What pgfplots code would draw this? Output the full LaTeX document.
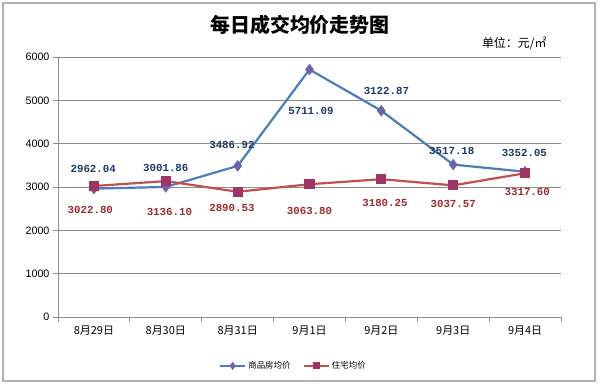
\documentclass[border=0pt]{standalone}
\usepackage{pgfplots}
\pgfplotsset{compat=1.18}
\usepackage{fontspec}
\setmainfont{Liberation Sans}
\newfontfamily\cjk{Noto Sans CJK SC}
\newfontfamily\lblfont{Liberation Mono}
\definecolor{blueline}{HTML}{4A7EBB}
\definecolor{bluemark}{HTML}{6E62A8}
\definecolor{redline}{HTML}{C0504D}
\definecolor{redmark}{HTML}{9E3566}
\definecolor{bluelbl}{HTML}{1F3864}
\definecolor{redlbl}{HTML}{9C2B2E}
\definecolor{gridc}{HTML}{8C8C8C}
\tikzset{
  blbl/.style={font=\lblfont\bfseries\fontsize{10.8}{12}\selectfont, text=bluelbl},
  rlbl/.style={font=\lblfont\bfseries\fontsize{10.8}{12}\selectfont, text=redlbl},
}
\begin{document}
\begin{tikzpicture}[x=1bp,y=1bp]
\useasboundingbox (0,0) rectangle (600,387);
\draw[gray!60, line width=1.2bp] (3,6) rectangle (595,384);
\node[font=\cjk\bfseries\fontsize{20}{24}\selectfont] at (300,362) {每日成交均价走势图};
\node[font=\cjk\fontsize{12}{14}\selectfont, anchor=east] at (550,344) {单位：元/㎡};
\begin{axis}[
  at={(58bp,70bp)}, anchor=south west,
  scale only axis, width=503bp, height=260bp,
  xmin=-0.5, xmax=6.5, ymin=0, ymax=6000,
  xtick={0,...,6},
  xticklabels={8月29日,8月30日,8月31日,9月1日,9月2日,9月3日,9月4日},
  minor xtick={-0.5,0.5,...,6.5},
  ytick={0,1000,...,6000},
  ymajorgrids,
  grid style={gridc, line width=0.8bp},
  axis x line*=bottom, axis y line*=left,
  axis line style={gridc, line width=0.8bp},
  tick align=outside,
  major tick length=5bp, minor tick length=5bp,
  x tick style={draw=none},
  minor x tick style={draw=gridc, line width=0.8bp},
  y tick style={draw=gridc, line width=0.8bp},
  x tick label style={font=\cjk\fontsize{11}{13}\selectfont},
  y tick label style={font=\fontsize{10.8}{12}\selectfont},
  /pgf/number format/assume math mode=true,
  /pgf/number format/1000 sep={},
  clip=false,
  legend columns=2,
  legend style={draw=none, fill=none, at={(0.468,-0.188)}, anchor=center,
    font=\cjk\fontsize{8.5}{10}\selectfont,
    /tikz/every even column/.append style={column sep=10bp}},
  legend image code/.code={\draw[mark repeat=2,mark phase=2,mark size=2.6bp,line width=1.8bp] plot coordinates {(0cm,0cm)(0.45cm,0cm)(0.9cm,0cm)};},
]
\addplot[color=blueline, line width=2.2bp, mark=diamond*, mark size=4bp,
  mark options={fill=bluemark, draw=bluemark}]
  coordinates {(0,2962.04)(1,3001.86)(2,3486.92)(3,5711.09)(4,4760)(5,3517.18)(6,3352.05)};
\addlegendentry{商品房均价}
\addplot[color=redline, line width=2.2bp, mark=square*, mark size=4bp,
  mark options={fill=redmark, draw=redmark}]
  coordinates {(0,3022.80)(1,3136.10)(2,2890.53)(3,3063.80)(4,3180.25)(5,3037.57)(6,3317.60)};
\addlegendentry{住宅均价}
\node[blbl] at (axis cs:-0.01,3415) {2962.04};
\node[blbl] at (axis cs:1,3438) {3001.86};
\node[blbl] at (axis cs:1.92,3969) {3486.92};
\node[blbl] at (axis cs:3.02,4754) {5711.09};
\node[blbl] at (axis cs:4.07,5215) {3122.87};
\node[blbl] at (axis cs:4.98,3831) {3517.18};
\node[blbl] at (axis cs:5.99,3785) {3352.05};
\node[rlbl] at (axis cs:-0.05,2469) {3022.80};
\node[rlbl] at (axis cs:1.05,2423) {3136.10};
\node[rlbl] at (axis cs:1.92,2515) {2890.53};
\node[rlbl] at (axis cs:3,2446) {3063.80};
\node[rlbl] at (axis cs:4.05,2631) {3180.25};
\node[rlbl] at (axis cs:5,2608) {3037.57};
\node[rlbl] at (axis cs:6.03,2885) {3317.60};
\end{axis}
\end{tikzpicture}
\end{document}
